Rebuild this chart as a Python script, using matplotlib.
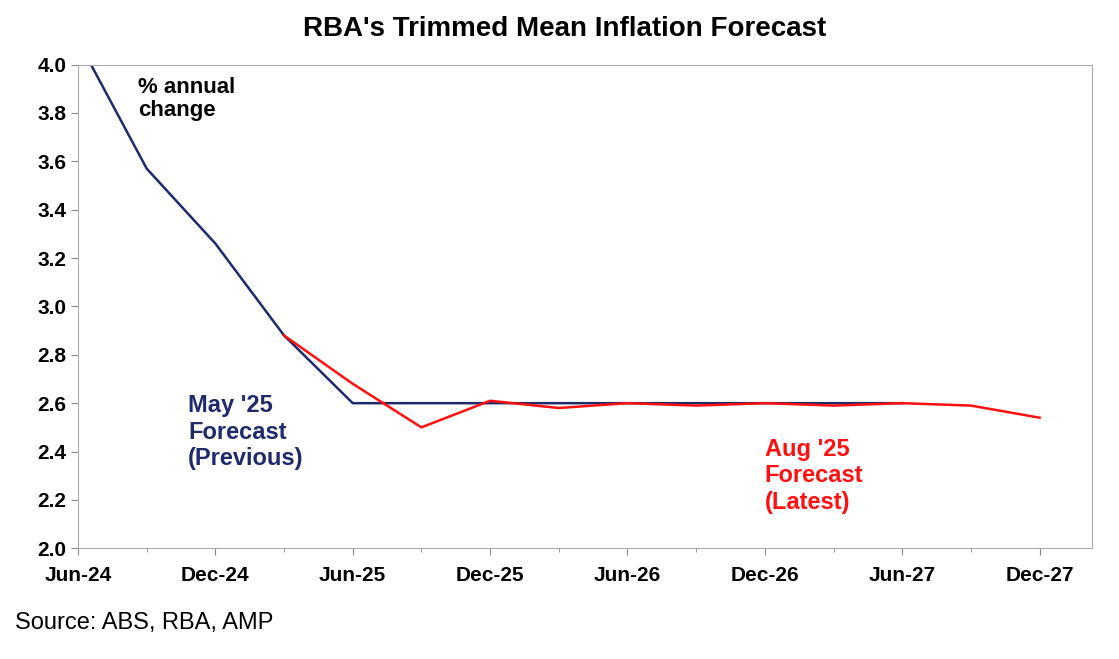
import numpy as np
import matplotlib
matplotlib.use('Agg')
from matplotlib import pyplot as plt

plt.rcParams['font.family'] = ['Liberation Sans', 'DejaVu Sans']

# quarterly index: 0 = Jun-24 ... 14 = Dec-27
may_x = np.arange(0, 13)
may_25 = [4.1, 3.57, 3.26, 2.88, 2.6, 2.6, 2.6, 2.6, 2.6, 2.6, 2.6, 2.6, 2.6]
aug_x = np.arange(3, 15)
aug_25 = [2.88, 2.68, 2.5, 2.61, 2.58, 2.6, 2.59, 2.6, 2.59, 2.6, 2.59, 2.54]

navy = '#1f2a6b'
red = '#ff1010'

fig = plt.figure(figsize=(11.19, 6.59), dpi=100)
ax = fig.add_axes([0.0697, 0.168, 0.906, 0.734])
ax.plot(may_x, may_25, color=navy, lw=1.8)
ax.plot(aug_x, aug_25, color=red, lw=1.8)

ax.set_xlim(0, 14.76)
ax.set_ylim(2.0, 4.0)
ax.set_yticks(np.arange(2.0, 4.01, 0.2))
ax.set_yticklabels(['%.1f' % v for v in np.arange(2.0, 4.01, 0.2)])
ax.set_xticks(np.arange(0, 15, 2))
ax.set_xticklabels(['Jun-24', 'Dec-24', 'Jun-25', 'Dec-25', 'Jun-26',
                    'Dec-26', 'Jun-27', 'Dec-27'])
ax.set_xticks(np.arange(0, 15, 1), minor=True)
ax.tick_params(axis='both', labelsize=15, length=5, color='#888888')
ax.tick_params(axis='x', which='minor', length=3, color='#888888')
ax.tick_params(axis='x', pad=8)
for lab in ax.get_xticklabels() + ax.get_yticklabels():
    lab.set_fontweight('bold')
for s in ax.spines.values():
    s.set_color('#aaaaaa')

ax.text(0.88, 3.95, '% annual\nchange', fontsize=16, fontweight='bold',
        va='top', linespacing=1.15)
ax.text(1.6, 2.48, "May '25\nForecast\n(Previous)", fontsize=17,
        fontweight='bold', color=navy, va='center', linespacing=1.2)
ax.text(10.0, 2.3, "Aug '25\nForecast\n(Latest)", fontsize=17,
        fontweight='bold', color=red, va='center', linespacing=1.2)

fig.suptitle("RBA's Trimmed Mean Inflation Forecast", fontsize=20,
             fontweight='bold', y=0.975, x=0.505)
fig.text(0.013, 0.045, 'Source: ABS, RBA, AMP', fontsize=17)

fig.savefig('out.png', dpi=100)
